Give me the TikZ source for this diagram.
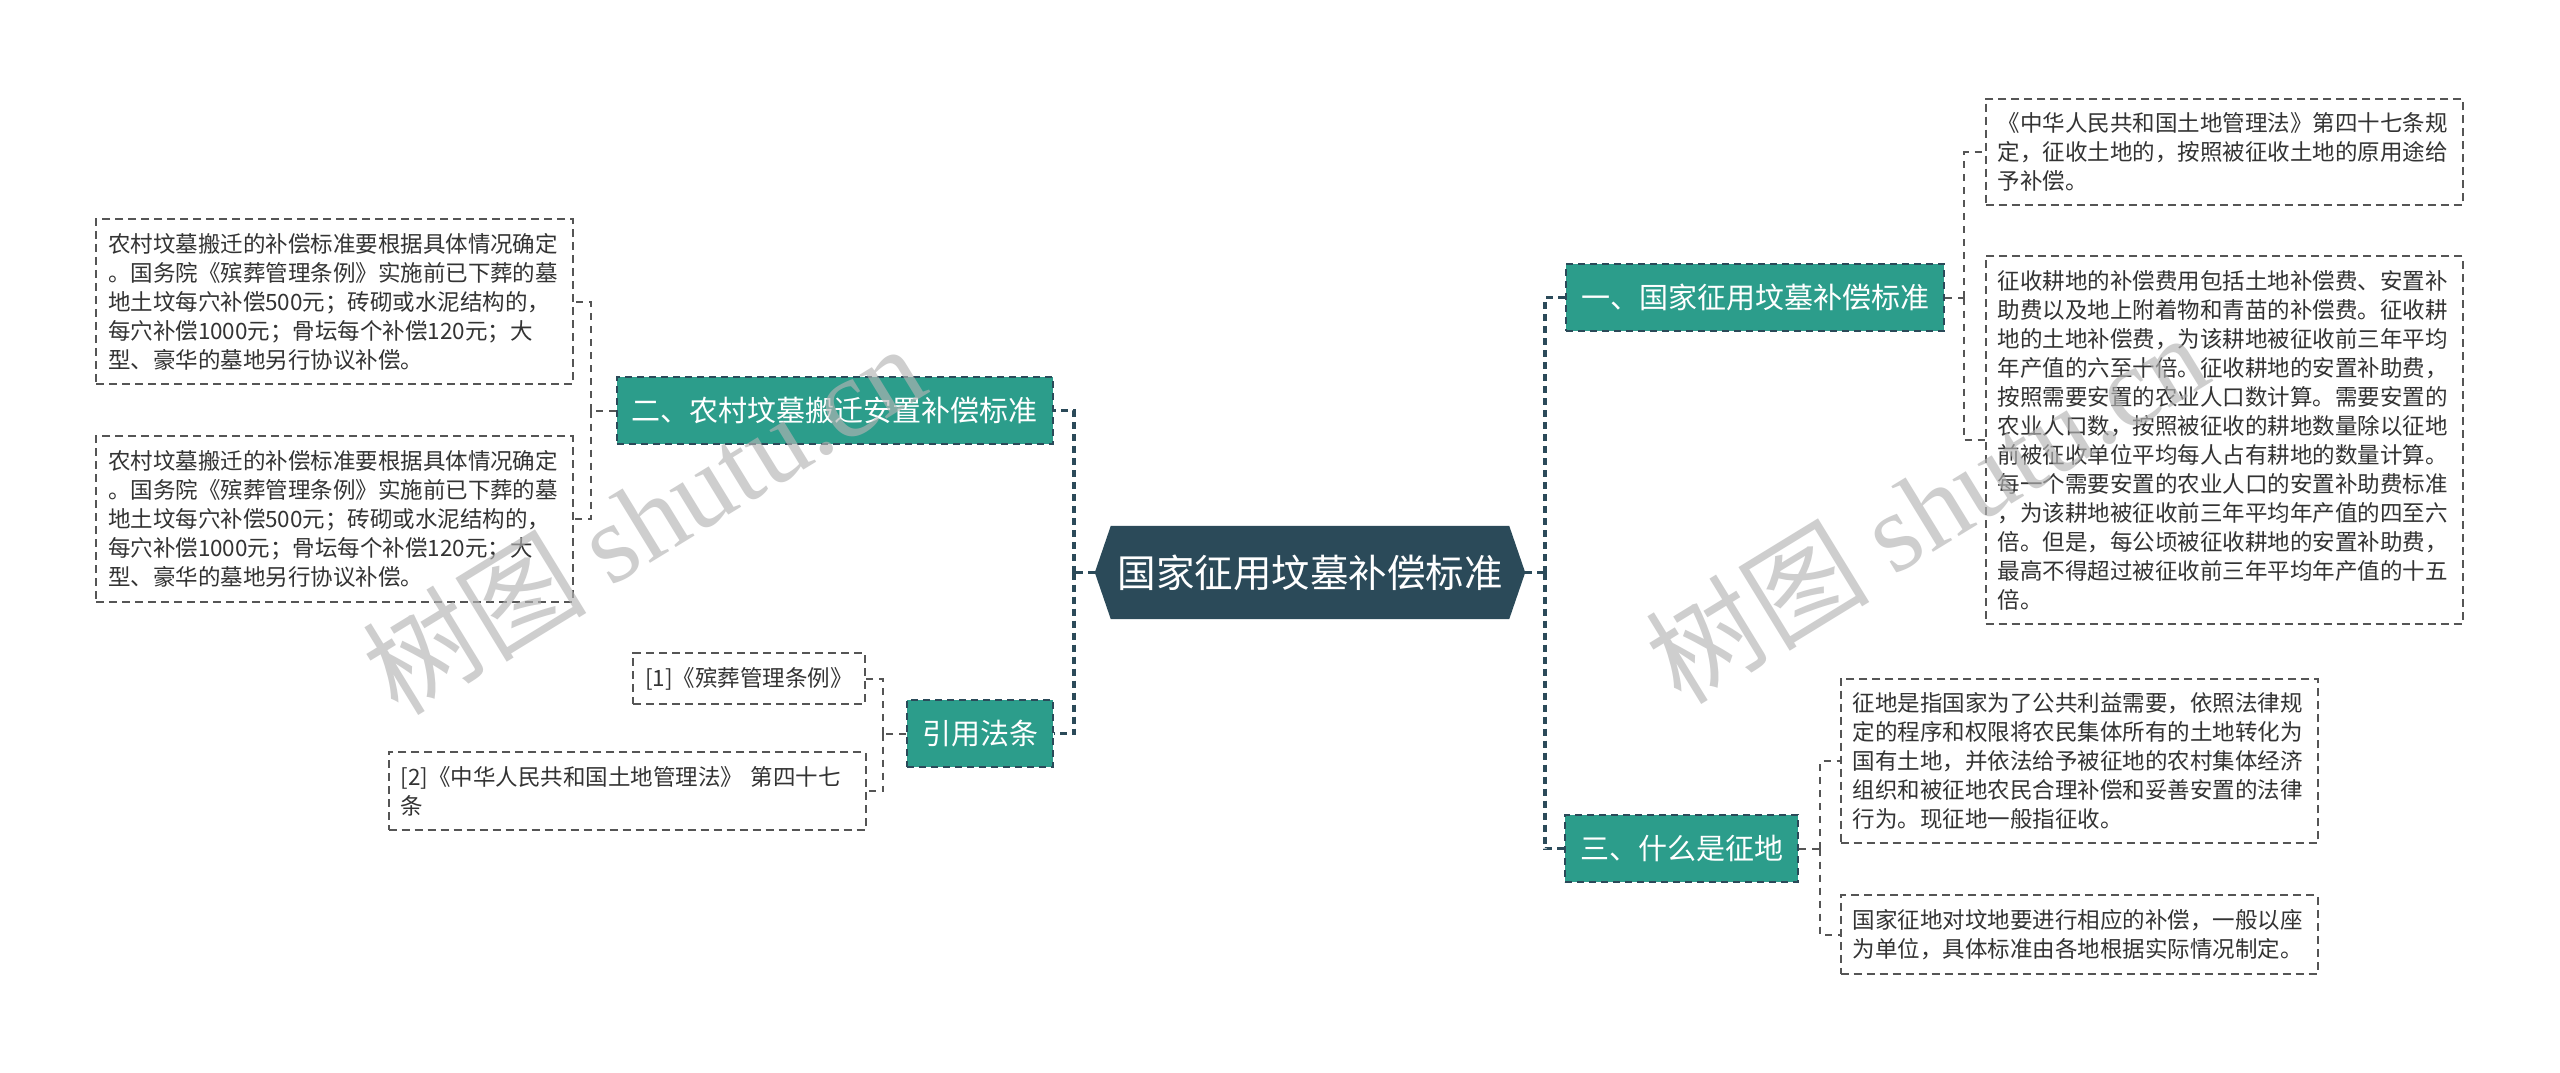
\documentclass[tikz,border=0pt]{standalone}
\usepackage{fontspec}
\setmainfont{Noto Sans CJK SC}
\newfontfamily\markfont{Liberation Serif}
\usetikzlibrary{calc,backgrounds}
\definecolor{rootblue}{RGB}{43,74,89}
\definecolor{branchteal}{RGB}{44,157,139}
\definecolor{leafline}{RGB}{85,85,85}
\definecolor{leaftext}{RGB}{51,51,51}
\definecolor{markgray}{RGB}{180,180,180}
\begin{document}
\begin{tikzpicture}[x=1pt,y=-1pt,
	root/.style={minimum width=398pt,minimum height=93pt,inner sep=0pt,text=white,font=\fontsize{38.5}{44}\selectfont},
	branch/.style={fill=branchteal,draw=rootblue,line width=2pt,dash pattern=on 7pt off 5pt,text=white,inner xsep=15pt,minimum height=67pt,font=\fontsize{29}{34}\selectfont},
	leaf/.style={draw=leafline,line width=2pt,dash pattern=on 8pt off 5pt,text=leaftext,align=left,text width=453pt,inner xsep=12pt,inner ysep=14pt,font=\fontsize{22.5}{29}\selectfont},
	trunk/.style={draw=rootblue,line width=3.5pt,dash pattern=on 7pt off 5pt},
	twig/.style={draw=leafline,line width=2pt,dash pattern=on 7pt off 6pt},
	watermark/.style={text=markgray,opacity=0.65,rotate=31.5,font=\fontsize{112}{112}\selectfont}]
	\useasboundingbox (0,0) rectangle (2560,1073);
	\node[root] (root) at (1310,572.5) {国家征用坟墓补偿标准};
	\coordinate (rootL) at ($(root.west)+(-16,0)$);
	\coordinate (rootR) at ($(root.east)+(16,0)$);
	\begin{scope}[on background layer]
		\fill[white] (0,0) rectangle (2560,1073);
		\fill[rootblue] (root.north west) -- (root.north east) -- (rootR) -- (root.south east) -- (root.south west) -- (rootL) -- cycle;
	\end{scope}

	\node[branch] (b1) at (1755,297.5) {一、国家征用坟墓补偿标准};
	\node[branch] (b2) at (834.5,410.5) {二、农村坟墓搬迁安置补偿标准};
	\node[branch] (b3) at (1681.5,848.5) {三、什么是征地};
	\node[branch] (b4) at (980,733.5) {引用法条};

	\node[leaf] (l1a) at (334.5,301.5) {农村坟墓搬迁的补偿标准要根据具体情况确定\\。国务院《殡葬管理条例》实施前已下葬的墓\\地土坟每穴补偿500元；砖砌或水泥结构的，\\每穴补偿1000元；骨坛每个补偿120元；大\\型、豪华的墓地另行协议补偿。};
	\node[leaf] (l1b) at (334.5,519) {农村坟墓搬迁的补偿标准要根据具体情况确定\\。国务院《殡葬管理条例》实施前已下葬的墓\\地土坟每穴补偿500元；砖砌或水泥结构的，\\每穴补偿1000元；骨坛每个补偿120元；大\\型、豪华的墓地另行协议补偿。};
	\node[leaf,text width=208pt] (ref1) at (749,678.5) {[1]《殡葬管理条例》};
	\node[leaf] (ref2) at (627,791) {[2]《中华人民共和国土地管理法》 第四十七\\条};
	\node[leaf] (r1a) at (2224,152) {《中华人民共和国土地管理法》第四十七条规\\定，征收土地的，按照被征收土地的原用途给\\予补偿。};
	\node[leaf] (r1b) at (2224,440) {征收耕地的补偿费用包括土地补偿费、安置补\\助费以及地上附着物和青苗的补偿费。征收耕\\地的土地补偿费，为该耕地被征收前三年平均\\年产值的六至十倍。征收耕地的安置补助费，\\按照需要安置的农业人口数计算。需要安置的\\农业人口数，按照被征收的耕地数量除以征地\\前被征收单位平均每人占有耕地的数量计算。\\每一个需要安置的农业人口的安置补助费标准\\，为该耕地被征收前三年平均年产值的四至六\\倍。但是，每公顷被征收耕地的安置补助费，\\最高不得超过被征收前三年平均年产值的十五\\倍。};
	\node[leaf] (r3a) at (2079,761) {征地是指国家为了公共利益需要，依照法律规\\定的程序和权限将农民集体所有的土地转化为\\国有土地，并依法给予被征地的农村集体经济\\组织和被征地农民合理补偿和妥善安置的法律\\行为。现征地一般指征收。};
	\node[leaf] (r3b) at (2079,934.5) {国家征地对坟地要进行相应的补偿，一般以座\\为单位，具体标准由各地根据实际情况制定。};

	\draw[trunk] (rootR) -- ++(20,0) coordinate (jr);
	\draw[trunk] (jr) |- (b1.west);
	\draw[trunk] (jr) |- (b3.west);
	\draw[trunk] (rootL) -- ++(-21,0) coordinate (jl);
	\draw[trunk] (jl) |- (b2.east);
	\draw[trunk] (jl) |- (b4.east);

	\draw[twig] (b1.east) -- ++(19,0) coordinate (j1);
	\draw[twig] (j1) |- (r1a.west);
	\draw[twig] (j1) |- (r1b.west);
	\draw[twig] (b3.east) -- ++(21,0) coordinate (j3);
	\draw[twig] (j3) |- (r3a.west);
	\draw[twig] (j3) |- (r3b.west);
	\draw[twig] (b2.west) -- ++(-25,0) coordinate (j2);
	\draw[twig] (j2) |- (l1a.east);
	\draw[twig] (j2) |- (l1b.east);
	\draw[twig] (b4.west) -- ++(-23,0) coordinate (j4);
	\draw[twig] (j4) |- (ref1.east);
	\draw[twig] (j4) |- (ref2.east);

	\node[watermark] (markL) at (643,518) {树图 {\markfont shutu.cn}};
	\node[watermark] (markR) at (1926,507) {树图 {\markfont shutu.cn}};
\end{tikzpicture}
\end{document}
